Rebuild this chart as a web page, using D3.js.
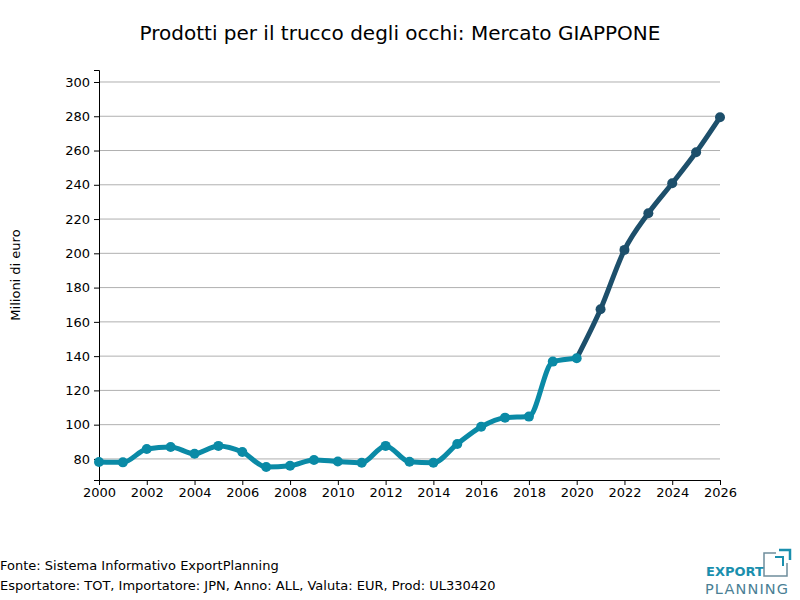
<!DOCTYPE html>
<html>
<head>
<meta charset="utf-8">
<script src="https://cdn.jsdelivr.net/npm/d3@7"></script>
<style>
  body { margin: 0; background: #fff; }
  svg text { font-family: "DejaVu Sans", sans-serif; }
</style>
</head>
<body>
<div id="box"></div>
<script>
var w = 800,
    h = 600;

// storico
var years = [2000, 2001, 2002, 2003, 2004, 2005, 2006, 2007, 2008, 2009, 2010,
             2011, 2012, 2013, 2014, 2015, 2016, 2017, 2018, 2019, 2020, 2021];
var values = [78.2, 78.0, 85.8, 87.0, 83.0, 87.6, 84.0, 75.3, 76.0, 79.4, 78.5,
              77.8, 87.6, 78.3, 77.8, 88.7, 98.8, 104.1, 104.7, 136.8, 138.8, 167.4];

// previsioni
var fcYears = [2020, 2021, 2022, 2023, 2024, 2025, 2026];
var fcValues = [138.8, 167.4, 202.0, 223.4, 240.9, 259.0, 279.4];

var yTicks = [80, 100, 120, 140, 160, 180, 200, 220, 240, 260, 280, 300];
var xTicks = [2000, 2002, 2004, 2006, 2008, 2010, 2012, 2014, 2016, 2018, 2020, 2022, 2024, 2026];

var svg = d3.select("#box")
            .append("svg")
            .attr("width", w)
            .attr("height", h);

var x = d3.scaleLinear().domain([2000, 2026]).range([99, 720]);
var y = d3.scaleLinear().domain([67.7, 307]).range([480, 70]);

// griglia
svg.selectAll("line.grid")
   .data(yTicks)
   .enter()
   .append("line")
   .attr("class", "grid")
   .attr("x1", 99)
   .attr("x2", 720)
   .attr("y1", function(d) { return y(d); })
   .attr("y2", function(d) { return y(d); })
   .attr("stroke", "#b0b0b0")
   .attr("stroke-width", 1);

var yAxis = svg.append("g")
   .attr("transform", "translate(99,0)")
   .call(d3.axisLeft(y).tickValues(yTicks).tickSize(5).tickPadding(4).tickFormat(d3.format("d")));

var xAxis = svg.append("g")
   .attr("transform", "translate(0,480)")
   .call(d3.axisBottom(x).tickValues(xTicks).tickSize(5).tickPadding(3).tickFormat(d3.format("d")));

[yAxis, xAxis].forEach(function(a) {
  a.select(".domain").attr("stroke", "#000").attr("stroke-width", 1);
  a.selectAll(".tick line").attr("stroke", "#000");
  a.selectAll(".tick text").attr("font-size", "13px").attr("fill", "#000")
   .attr("font-family", "DejaVu Sans, sans-serif");
});

var hist = years.map(function(d, i) { return [d, values[i]]; });
var fc = fcYears.map(function(d, i) { return [d, fcValues[i]]; });

var line = d3.line()
   .x(function(d) { return x(d[0]); })
   .y(function(d) { return y(d[1]); })
   .curve(d3.curveMonotoneX);

svg.append("path")
   .datum(fc)
   .attr("d", line)
   .attr("fill", "none")
   .attr("stroke", "#1d4f6b")
   .attr("stroke-width", 5);

svg.append("path")
   .datum(hist.slice(0, 21))
   .attr("d", line)
   .attr("fill", "none")
   .attr("stroke", "#0a8aa6")
   .attr("stroke-width", 5);

svg.selectAll("circle.fc")
   .data(fc.slice(1))
   .enter()
   .append("circle")
   .attr("class", "fc")
   .attr("cx", function(d) { return x(d[0]); })
   .attr("cy", function(d) { return y(d[1]); })
   .attr("r", 5)
   .attr("fill", "#1d4f6b");

svg.selectAll("circle.hist")
   .data(hist.slice(0, 21))
   .enter()
   .append("circle")
   .attr("class", "hist")
   .attr("cx", function(d) { return x(d[0]); })
   .attr("cy", function(d) { return y(d[1]); })
   .attr("r", 5)
   .attr("fill", "#0a8aa6");

// testi
svg.append("text")
   .text("Prodotti per il trucco degli occhi: Mercato GIAPPONE")
   .attr("x", 400)
   .attr("y", 40)
   .attr("text-anchor", "middle")
   .attr("font-size", "20px")
   .attr("fill", "#000");

svg.append("text")
   .text("Milioni di euro")
   .attr("transform", "translate(20,275) rotate(-90)")
   .attr("text-anchor", "middle")
   .attr("font-size", "13px")
   .attr("fill", "#000");

svg.append("text")
   .text("Fonte: Sistema Informativo ExportPlanning")
   .attr("x", 0)
   .attr("y", 570)
   .attr("font-size", "13px")
   .attr("fill", "#000");

svg.append("text")
   .text("Esportatore: TOT, Importatore: JPN, Anno: ALL, Valuta: EUR, Prod: UL330420")
   .attr("x", 0)
   .attr("y", 590)
   .attr("font-size", "13px")
   .attr("fill", "#000");

// logo
var logo = svg.append("g");
logo.append("text")
   .text("EXPORT")
   .attr("x", 706)
   .attr("y", 576)
   .attr("font-size", "13px")
   .attr("font-weight", "bold")
   .attr("fill", "#1a8fae");
logo.append("text")
   .text("PLANNING")
   .attr("x", 705)
   .attr("y", 594)
   .attr("font-size", "14.5px")
   .attr("textLength", 83)
   .attr("fill", "#4a7f95");
logo.append("path")
   .attr("d", "M776,553 L764,553 L764,576 L787,576 L787,563")
   .attr("fill", "none")
   .attr("stroke", "#6f8d9c")
   .attr("stroke-width", 1.5);
logo.append("path")
   .attr("d", "M775,557 L783,557 L783,566")
   .attr("fill", "none")
   .attr("stroke", "#1a8fae")
   .attr("stroke-width", 2);
logo.append("path")
   .attr("d", "M779,550 L790,550 L790,560")
   .attr("fill", "none")
   .attr("stroke", "#1a8fae")
   .attr("stroke-width", 2.5);
</script>
</body>
</html>
